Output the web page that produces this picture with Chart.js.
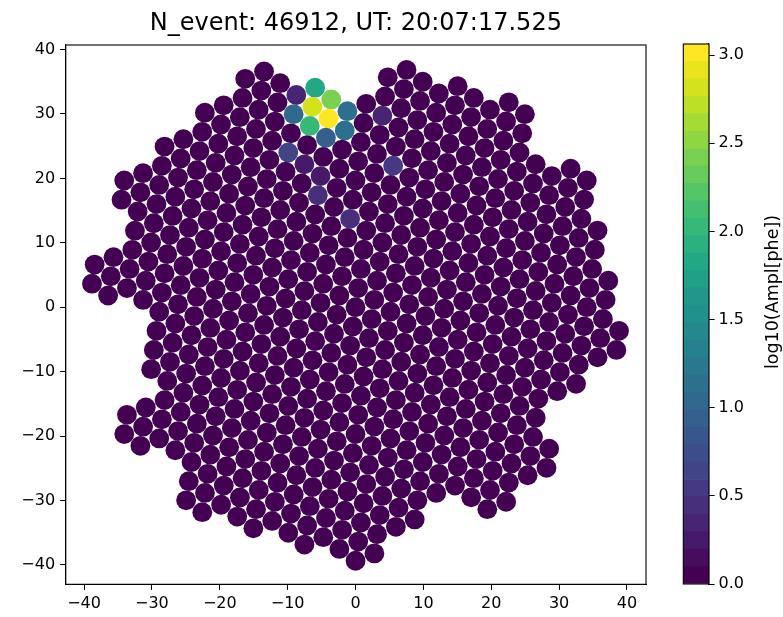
<!DOCTYPE html>
<html>
<head>
<meta charset="utf-8">
<script src="https://cdn.jsdelivr.net/npm/chart.js@4/dist/chart.umd.min.js"></script>
<style>
  body { margin: 0; background: #fff; }
  #wrap { position: relative; width: 783px; height: 617px; }
  #wrap canvas { position: absolute; left: 0; top: 0; }
</style>
</head>
<body>
<div id="wrap">
  <canvas id="camera" width="783" height="617"></canvas>
  <canvas id="cbar" width="783" height="617"></canvas>
</div>
<script>
// camera pixels, listed as column segments on the hex lattice
// column index m, first and last row index n in that column
const segCol   = [-15, -14, -14, -13, -12, -12, -11, -11, -10, -9, -8, -7, -6, -5, -4, -3, -2, -1, 0, 1, 2, 3, 4, 5, 6, 7, 8, 9, 10, 11, 12, 12, 13, 14, 15];
const segFirst = [-8, -12, -8, -12, -13, 1, -13, 1, -14, -14, -15, -15, -14, -13, -13, -12, -11, -11, -12, -12, -11, -10, -10, -9, -8, -8, -7, -4, -3, -3, -2, 12, 1, 4, 7];
const segLast  = [-7, -11, -6, -6, -5, 2, -1, 3, 3, 4, 7, 8, 8, 9, 10, 10, 11, 12, 12, 13, 14, 14, 13, 13, 12, 12, 13, 14, 14, 13, 9, 13, 9, 8, 8];

// pixels with signal, log10 amplitude in phe (all others are 0)
const hitCol = [-3, -4, -3, -4, -4, -2, -2, -5, -3, -5, -5, -4, -3, -3, -1, 1, 0];
const hitRow = [-11, -12, -12, -13, -11, -11, -10, -12, -10, -13, -10, -9, -8, -7, -5, -7, -10];
const hitAmp = [3.06, 2.85, 2.38, 1.84, 1.98, 1.13, 1.10, 1.02, 0.98, 0.38, 0.60, 0.22, 0.28, 0.40, 0.47, 0.52, 0.30];

const xTicks = [-40, -30, -20, -10, 0, 10, 20, 30, 40];
const yTicks = [-40, -30, -20, -10, 0, 10, 20, 30, 40];
const cbarTicks = [0.0, 0.5, 1.0, 1.5, 2.0, 2.5, 3.0];

const titleText = 'N_event: 46912, UT: 20:07:17.525';
const cbarLabel = 'log10(Ampl[phe])';

// lattice geometry
const pitch = 3.0;
const tilt = 22.42 * Math.PI / 180;
const ux = pitch * Math.cos(tilt), uy = pitch * Math.sin(tilt);
const vx = pitch * Math.cos(tilt - 2 * Math.PI / 3), vy = pitch * Math.sin(tilt - 2 * Math.PI / 3);

const ampMax = 3.063;
const nBands = 31;

const viridis = ['#440154', '#471365', '#482475', '#463480', '#414487', '#3b528b', '#355f8d',
  '#2f6c8e', '#2a788e', '#25848e', '#21918c', '#1e9c89', '#22a884', '#2fb47c', '#44bf70',
  '#5ec962', '#7ad151', '#9bd93c', '#bddf26', '#dfe318', '#fde725'];

function hexToRgb(h) {
  return [parseInt(h.slice(1, 3), 16), parseInt(h.slice(3, 5), 16), parseInt(h.slice(5, 7), 16)];
}

function cmap(t) {
  t = Math.min(1, Math.max(0, t));
  const f = t * (viridis.length - 1);
  const i = Math.min(viridis.length - 2, Math.floor(f));
  const a = hexToRgb(viridis[i]);
  const b = hexToRgb(viridis[i + 1]);
  const k = f - i;
  const c = a.map((v, j) => Math.round(v + (b[j] - v) * k));
  return 'rgb(' + c.join(',') + ')';
}

// discrete colour for an amplitude
function ampColor(a) {
  const band = Math.min(nBands - 1, Math.floor(a / ampMax * nBands));
  return cmap(band / (nBands - 1));
}

const amps = {};
for (let i = 0; i < hitCol.length; i++) {
  amps[hitCol[i] + ',' + hitRow[i]] = hitAmp[i];
}

const points = [];
const colors = [];
for (let s = 0; s < segCol.length; s++) {
  const m = segCol[s];
  for (let n = segFirst[s]; n <= segLast[s]; n++) {
    points.push({ x: m * ux + n * vx, y: m * uy + n * vy });
    colors.push(ampColor(amps[m + ',' + n] || 0));
  }
}

const tickFont = { family: 'DejaVu Sans', size: 16 };
const minus = v => (v < 0 ? '\u2212' + Math.abs(v) : String(v));

// box around the plotting area
const frame = {
  id: 'frame',
  afterDraw(chart) {
    const a = chart.chartArea;
    const ctx = chart.ctx;
    ctx.save();
    ctx.strokeStyle = '#000';
    ctx.lineWidth = 1.1;
    ctx.strokeRect(a.left, a.top, a.right - a.left, a.bottom - a.top);
    ctx.restore();
  }
};

// title centred over the axes box
const axesTitle = {
  id: 'axesTitle',
  afterDraw(chart) {
    const a = chart.chartArea;
    const ctx = chart.ctx;
    ctx.save();
    ctx.fillStyle = '#000';
    ctx.font = '24px "DejaVu Sans"';
    ctx.textAlign = 'center';
    ctx.textBaseline = 'alphabetic';
    ctx.fillText(titleText, (a.left + a.right) / 2, a.top - 15);
    ctx.restore();
  }
};

new Chart(document.getElementById('camera'), {
  type: 'scatter',
  data: {
    datasets: [{
      data: points,
      backgroundColor: colors,
      pointRadius: 9.9,
      pointBorderWidth: 0,
      pointHoverRadius: 9.9
    }]
  },
  options: {
    responsive: false,
    animation: false,
    events: [],
    layout: { padding: { left: 0, right: 137, top: 45, bottom: 0 } },
    plugins: {
      legend: { display: false },
      tooltip: { enabled: false },
      title: { display: false }
    },
    scales: {
      x: {
        type: 'linear',
        min: -42.7,
        max: 42.8,
        afterBuildTicks: s => { s.ticks = xTicks.map(v => ({ value: v })); },
        afterFit: s => { s.height = 32.7; },
        grid: { drawOnChartArea: false, drawTicks: true, tickLength: 5.6, color: '#000' },
        border: { color: '#000', width: 1.1 },
        ticks: { color: '#000', font: tickFont, padding: 4, maxRotation: 0, callback: minus }
      },
      y: {
        type: 'linear',
        min: -43.0,
        max: 40.7,
        afterBuildTicks: s => { s.ticks = yTicks.map(v => ({ value: v })); },
        afterFit: s => { s.width = 65.7; },
        grid: { drawOnChartArea: false, drawTicks: true, tickLength: 5.6, color: '#000' },
        border: { color: '#000', width: 1.1 },
        ticks: { color: '#000', font: tickFont, padding: 5, callback: minus }
      }
    }
  },
  plugins: [frame, axesTitle]
});

// colour bar: one stacked bar segment per colour band
const bandSets = [];
for (let b = 0; b < nBands; b++) {
  bandSets.push({
    data: [ampMax / nBands],
    backgroundColor: cmap(b / (nBands - 1)),
    borderWidth: 0,
    barPercentage: 1,
    categoryPercentage: 1
  });
}

const cbarTitle = {
  id: 'cbarTitle',
  afterDraw(chart) {
    const ctx = chart.ctx;
    ctx.save();
    ctx.translate(773, 292);
    ctx.rotate(-Math.PI / 2);
    ctx.fillStyle = '#000';
    ctx.font = '17.5px "DejaVu Sans"';
    ctx.textAlign = 'center';
    ctx.textBaseline = 'middle';
    ctx.fillText(cbarLabel, 0, 0);
    ctx.restore();
  }
};

new Chart(document.getElementById('cbar'), {
  type: 'bar',
  data: { labels: [''], datasets: bandSets },
  options: {
    responsive: false,
    animation: false,
    events: [],
    layout: { padding: { left: 683.3, right: 0, top: 44, bottom: 33 } },
    plugins: { legend: { display: false }, tooltip: { enabled: false } },
    scales: {
      x: { stacked: true, display: false },
      y: {
        stacked: true,
        position: 'right',
        min: 0,
        max: ampMax,
        afterBuildTicks: s => { s.ticks = cbarTicks.map(v => ({ value: v })); },
        afterFit: s => { s.width = 74; },
        grid: { drawOnChartArea: false, drawTicks: true, tickLength: 5.6, color: '#000' },
        border: { color: '#000', width: 1.1 },
        ticks: { color: '#000', font: tickFont, padding: 4, callback: v => v.toFixed(1) }
      }
    }
  },
  plugins: [frame, cbarTitle]
});
</script>
</body>
</html>
